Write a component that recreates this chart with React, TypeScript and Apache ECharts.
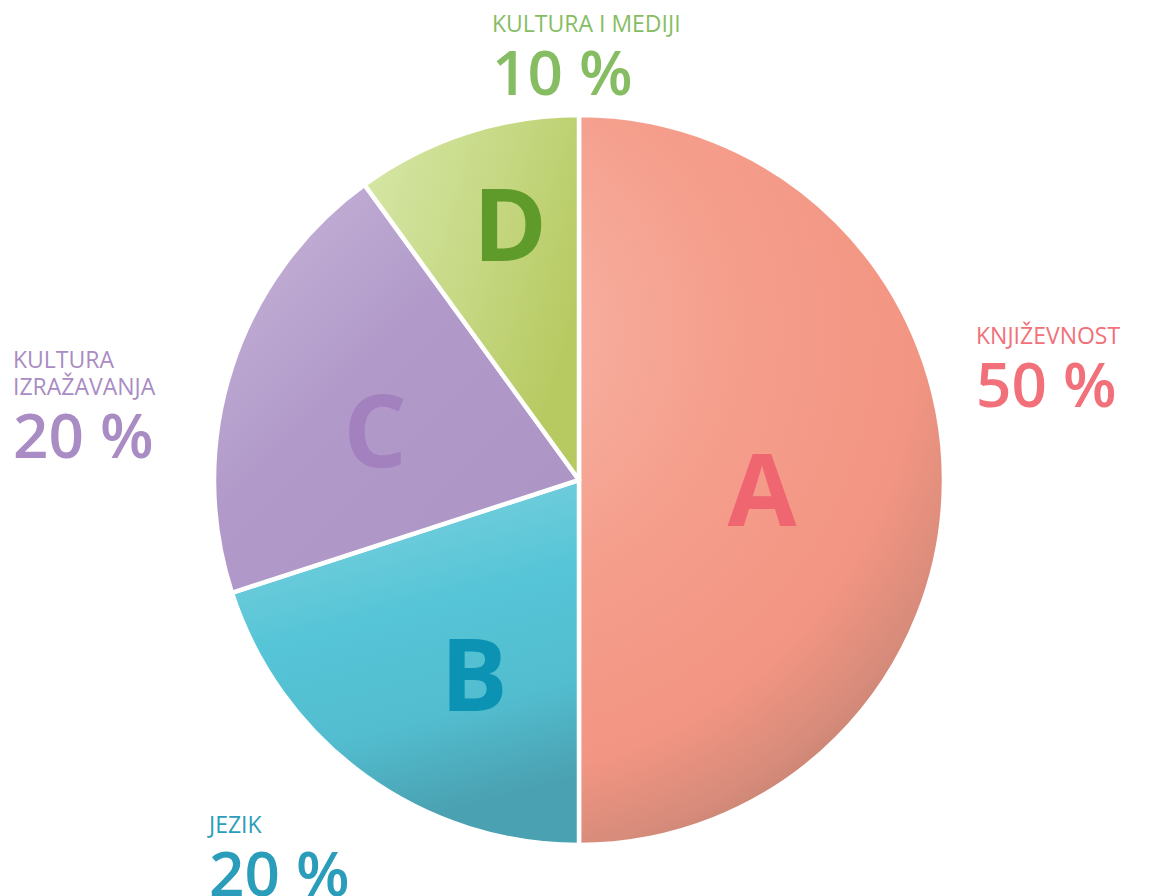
import React, { useEffect, useRef } from "react";
import * as echarts from "echarts";

// ---- data ----
const categories = ["KNJIŽEVNOST", "JEZIK", "KULTURA\nIZRAŽAVANJA", "KULTURA I MEDIJI"];
const letters = ["A", "B", "C", "D"];
const values = [50, 20, 20, 10];

// ---- styles ----
const labelColors = ["#F1707A", "#2A9DBA", "#A98CC3", "#86BD63"];
const letterColors = ["#EF6670", "#0C93B4", "#A381BF", "#5F9B2B"];
const outerLabelPos = [
  [976, 321],
  [209, 810],
  [13, 345],
  [492, 9],
];
const letterPos = [
  [762, 487],
  [474, 672],
  [375, 428],
  [510, 222],
];

const CX = 579;
const CY = 480;
const R = 365;

function sliceFill(i: number): any {
  if (i === 0) {
    return new echarts.graphic.RadialGradient(
      470,
      330,
      620,
      [
        { offset: 0, color: "#F8B6A7" },
        { offset: 0.45, color: "#F59D8B" },
        { offset: 0.72, color: "#F39583" },
        { offset: 0.86, color: "#D68B7A" },
        { offset: 1, color: "#A87362" },
      ],
      true
    );
  }
  if (i === 1) {
    return new echarts.graphic.LinearGradient(0, 0, 0.25, 1, [
      { offset: 0, color: "#86D3DF" },
      { offset: 0.45, color: "#56C5D7" },
      { offset: 0.75, color: "#52BDCF" },
      { offset: 1, color: "#4AA1B1" },
    ]);
  }
  if (i === 2) {
    return new echarts.graphic.LinearGradient(0, 0, 0.9, 1, [
      { offset: 0, color: "#C8B6DA" },
      { offset: 0.45, color: "#B19AC9" },
      { offset: 1, color: "#AC94C5" },
    ]);
  }
  return new echarts.graphic.LinearGradient(0, 0, 1, 0.5, [
    { offset: 0, color: "#D6E8A8" },
    { offset: 0.5, color: "#C8DA88" },
    { offset: 1, color: "#B7CA62" },
  ]);
}

export default function App() {
  const ref = useRef<HTMLDivElement>(null);

  useEffect(() => {
    if (!ref.current) return;
    const chart = echarts.init(ref.current, undefined, { renderer: "svg" });

    const mainData = values.map((v, i) => ({
      name: categories[i],
      value: v,
      itemStyle: { color: sliceFill(i) },
      label: { color: letterColors[i] },
    }));

    const labelData = values.map((v, i) => ({
      name: categories[i],
      value: v,
      label: {
        rich: {
          n: {
            fontFamily: "Open Sans",
            fontSize: 23,
            fontWeight: 400,
            lineHeight: 27,
            color: labelColors[i],
          },
          v: {
            fontFamily: "Open Sans",
            fontSize: 62,
            fontWeight: 600,
            lineHeight: 70,
            color: labelColors[i],
          },
        },
      },
    }));

    chart.setOption({
      animation: false,
      backgroundColor: "#ffffff",
      series: [
        {
          type: "pie",
          center: [CX, CY],
          radius: [0, R],
          startAngle: 90,
          clockwise: true,
          silent: true,
          itemStyle: { borderColor: "#ffffff", borderWidth: 4.5 },
          label: {
            show: true,
            position: "inside",
            formatter: (p: any) => letters[p.dataIndex],
            fontFamily: "Open Sans",
            fontWeight: 700,
            fontSize: 100,
          },
          labelLine: { show: false },
          labelLayout: (p: any) => ({
            x: letterPos[p.dataIndex][0],
            y: letterPos[p.dataIndex][1],
            align: "center",
            verticalAlign: "middle",
          }),
          data: mainData,
        },
        {
          type: "pie",
          center: [CX, CY],
          radius: [0, R],
          startAngle: 90,
          clockwise: true,
          silent: true,
          itemStyle: { color: "rgba(0,0,0,0)" },
          label: {
            show: true,
            position: "outside",
            formatter: (p: any) => `{n|${p.name}}\n{v|${p.value} %}`,
          },
          labelLine: { show: false },
          labelLayout: (p: any) => ({
            x: outerLabelPos[p.dataIndex][0],
            y: outerLabelPos[p.dataIndex][1],
            align: "left",
            verticalAlign: "top",
          }),
          data: labelData,
        },
      ],
    });

    return () => chart.dispose();
  }, []);

  return (
    <div
      ref={ref}
      style={{ position: "fixed", left: 0, top: 0, width: 1150, height: 896 }}
    />
  );
}
